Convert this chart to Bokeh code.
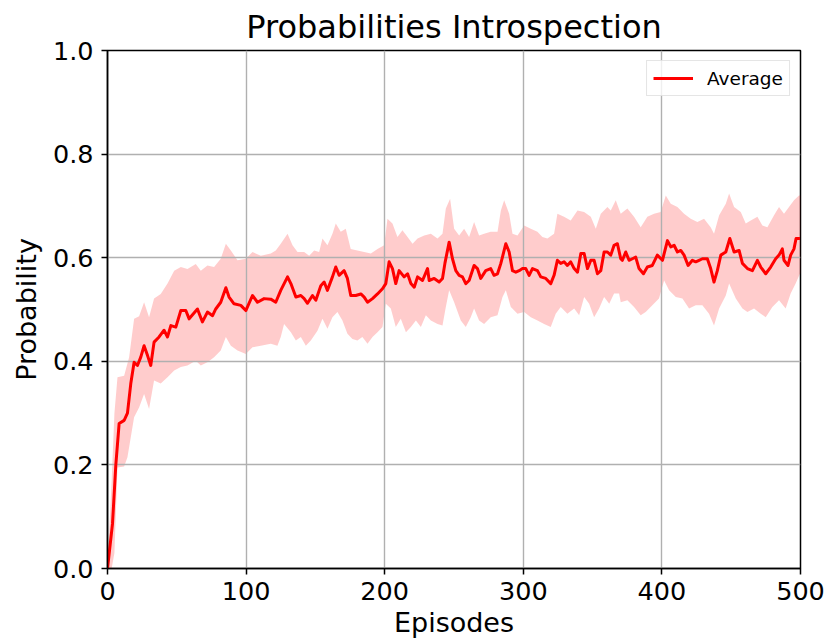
from bokeh.plotting import figure
from bokeh.models import Range1d, FixedTicker, PrintfTickFormatter, Legend, LegendItem
from bokeh.embed import file_html
from bokeh.resources import INLINE

# ---- data ----
mean_ep = [0, 3.6, 6, 8.4, 12, 14.4, 16.8, 19.2, 21.6, 24, 26.4, 28.9, 31.2, 33.6, 37.2, 40.8, 43.3, 45.7, 49.3,
           52.9, 56.5, 58.9, 64.9, 68.5, 72.1, 75.8, 78.1, 81.7, 85.4, 87.7, 91.3, 96.2, 99.8, 104.6, 108.2, 113,
           117.8, 121.4, 125, 129.9, 132.3, 135.9, 139.5, 141.9, 144.3, 147.9, 150.3, 153.9, 156.3, 158.7, 162.3,
           164.7, 167.1, 170.7, 173.1, 175.5, 179.1, 182.8, 185.2, 187.6, 191.2, 194.8, 198.4, 200.8, 203.2, 205.6,
           208, 210.4, 214, 216.5, 218.9, 221.3, 223.7, 227.3, 230.9, 232.1, 235.7, 239.3, 241.7, 243.5, 246.5,
           248.9, 251.3, 253.7, 256.1, 258.5, 260.9, 264.5, 266.9, 269.3, 272.9, 276.5, 278.9, 281.4, 283.8, 287.4,
           289.8, 292.2, 294.6, 297, 299.4, 301.8, 304.2, 306.6, 310.2, 312.6, 316.2, 319.8, 322.2, 324.6, 327,
           329.4, 331.8, 334.2, 336.7, 339.1, 341.5, 343.9, 346.3, 348.7, 351.1, 353.5, 355.9, 358.3, 360.7, 363.1,
           365.5, 367.9, 370.3, 371.5, 373.9, 376.3, 378.7, 381.1, 383.5, 386.7, 389.5, 393.1, 396.7, 400.4, 404,
           406.4, 408.8, 411.2, 413.6, 416, 418.9, 422, 424.4, 426.8, 429.2, 432.8, 435.2, 437.6, 440, 442.5, 446.1,
           449, 452.1, 455.7, 458.1, 461.7, 465.3, 468.9, 471.3, 474.9, 478.5, 482.1, 484.5, 486.9, 488.1, 491,
           492.9, 495.3, 496.8, 499.6]
mean_val = [0.0, 0.086, 0.20, 0.28, 0.286, 0.30, 0.357, 0.398, 0.392, 0.408, 0.43, 0.411, 0.392, 0.437, 0.447, 0.46,
            0.447, 0.469, 0.466, 0.498, 0.498, 0.482, 0.501, 0.476, 0.495, 0.488, 0.501, 0.514, 0.542, 0.524, 0.511,
            0.508, 0.498, 0.527, 0.514, 0.521, 0.52, 0.514, 0.537, 0.563, 0.55, 0.524, 0.527, 0.521, 0.512, 0.527,
            0.518, 0.546, 0.553, 0.537, 0.563, 0.582, 0.566, 0.575, 0.56, 0.527, 0.527, 0.53, 0.524, 0.514, 0.521,
            0.53, 0.54, 0.55, 0.592, 0.579, 0.55, 0.575, 0.563, 0.569, 0.55, 0.543, 0.563, 0.556, 0.579, 0.556, 0.56,
            0.553, 0.56, 0.59, 0.63, 0.598, 0.575, 0.566, 0.563, 0.55, 0.556, 0.585, 0.579, 0.56, 0.575, 0.579, 0.566,
            0.569, 0.589, 0.627, 0.611, 0.575, 0.572, 0.575, 0.579, 0.579, 0.566, 0.579, 0.575, 0.563, 0.56, 0.55,
            0.566, 0.595, 0.589, 0.592, 0.585, 0.592, 0.579, 0.572, 0.608, 0.608, 0.579, 0.595, 0.595, 0.569, 0.575,
            0.611, 0.611, 0.605, 0.624, 0.627, 0.598, 0.595, 0.611, 0.595, 0.598, 0.601, 0.579, 0.569, 0.582, 0.585,
            0.605, 0.595, 0.633, 0.621, 0.624, 0.611, 0.614, 0.605, 0.585, 0.595, 0.592, 0.595, 0.598, 0.598, 0.579,
            0.553, 0.575, 0.605, 0.611, 0.637, 0.611, 0.614, 0.589, 0.579, 0.575, 0.595, 0.582, 0.569, 0.582, 0.598,
            0.605, 0.617, 0.595, 0.585, 0.605, 0.617, 0.637, 0.637]

upper_ep = [0, 3, 5, 7.2, 12, 15.6, 19.2, 22.8, 26.4, 30, 33.6, 38.4, 43.3, 48.1, 52.9, 57.7, 63.7, 67.3, 72.1, 76.9,
            81.7, 85.4, 89, 93.8, 99.8, 104.6, 110.6, 117.8, 121.4, 125, 129.9, 133.5, 137.1, 141.9, 145.5, 149.1,
            152.7, 155.1, 158.7, 162.3, 164.7, 168.3, 171.9, 175.5, 180.3, 185.2, 190, 194.8, 199.6, 202, 205.6,
            209.2, 212.8, 216.5, 220.1, 223.7, 228.5, 233.3, 238.1, 241.7, 244.1, 247.2, 250.1, 253.7, 257.3, 260.9,
            264.5, 268.1, 271.7, 276.5, 281.4, 283.8, 286.2, 289.8, 292.2, 295.8, 300.6, 305.4, 310.2, 313.8, 317.4,
            322.2, 324.6, 329.4, 334.2, 339.1, 343.9, 348.7, 352.3, 355.9, 360.7, 363.1, 366.7, 370.3, 375.1, 379.9,
            384.7, 389.5, 394.3, 399.1, 402.8, 406.4, 411.2, 416, 420.8, 425.6, 430.4, 435.2, 437.6, 441.3, 446.1,
            448.5, 452.1, 456.9, 460.5, 464.1, 468.9, 472.5, 476.1, 480.9, 484.5, 488.1, 491.7, 495.3, 498.9, 500]
upper_val = [0.0, 0.17, 0.30, 0.369, 0.372, 0.408, 0.482, 0.487, 0.514, 0.485, 0.521, 0.53, 0.55, 0.575, 0.582, 0.578,
             0.588, 0.575, 0.585, 0.582, 0.598, 0.627, 0.614, 0.595, 0.598, 0.611, 0.604, 0.608, 0.614, 0.627, 0.646,
             0.624, 0.611, 0.611, 0.604, 0.614, 0.611, 0.637, 0.624, 0.646, 0.666, 0.65, 0.656, 0.617, 0.614, 0.611,
             0.608, 0.617, 0.624, 0.675, 0.666, 0.64, 0.653, 0.64, 0.627, 0.637, 0.643, 0.646, 0.637, 0.646, 0.695,
             0.714, 0.656, 0.643, 0.656, 0.64, 0.669, 0.643, 0.646, 0.65, 0.65, 0.691, 0.711, 0.685, 0.646, 0.643,
             0.662, 0.656, 0.65, 0.64, 0.637, 0.646, 0.685, 0.679, 0.672, 0.691, 0.688, 0.679, 0.656, 0.685, 0.698,
             0.691, 0.711, 0.685, 0.695, 0.679, 0.659, 0.679, 0.685, 0.688, 0.72, 0.704, 0.698, 0.685, 0.675, 0.669,
             0.675, 0.659, 0.646, 0.682, 0.704, 0.724, 0.698, 0.688, 0.666, 0.672, 0.679, 0.662, 0.659, 0.682, 0.698,
             0.685, 0.698, 0.711, 0.72, 0.72]

lower_ep = [0, 3, 5, 7.2, 12, 14.4, 19.2, 22.8, 26.4, 30, 33.6, 38.4, 43.3, 48.1, 52.9, 57.7, 63.7, 67.3, 72.1, 76.9,
            81.7, 85.4, 89, 93.8, 99.8, 104.6, 110.6, 117.8, 122.6, 125, 127.4, 132.3, 135.9, 139.5, 143.1, 146.7,
            151.5, 155.1, 158.7, 162.3, 165.9, 169.5, 173.1, 176.7, 180.3, 183.9, 187.6, 191.2, 194.8, 198.4, 200.8,
            204.4, 208, 211.6, 215.3, 218.9, 222.5, 226.1, 229.7, 233.3, 238.1, 241.7, 244.1, 246.5, 250.1, 254.9,
            258.5, 262.1, 264.5, 268.1, 271.7, 276.5, 281.4, 285, 287.4, 291, 295.8, 300.6, 305.4, 310.2, 315, 319.8,
            323.4, 327, 331.8, 336.7, 340.3, 343.9, 347.5, 351.1, 354.7, 358.3, 362, 365.5, 369.1, 370.3, 375.1,
            379.9, 384.7, 388.3, 393.1, 397.9, 401.6, 405.2, 410, 414.8, 419.6, 424.4, 429.2, 434, 437.6, 441.3,
            446.1, 448.5, 453.3, 458.1, 461.7, 466.5, 471.3, 474.9, 479.7, 484.5, 489.3, 492.9, 496.5, 499.6, 500]
lower_val = [0.0, 0.0, 0.03, 0.195, 0.197, 0.215, 0.292, 0.311, 0.337, 0.308, 0.363, 0.357, 0.369, 0.382, 0.389,
             0.392, 0.401, 0.392, 0.398, 0.408, 0.421, 0.447, 0.43, 0.421, 0.414, 0.427, 0.43, 0.434, 0.43, 0.447,
             0.472, 0.456, 0.44, 0.447, 0.43, 0.44, 0.459, 0.482, 0.463, 0.485, 0.495, 0.479, 0.453, 0.443, 0.44,
             0.447, 0.434, 0.447, 0.456, 0.466, 0.511, 0.502, 0.466, 0.482, 0.456, 0.466, 0.479, 0.466, 0.489, 0.479,
             0.472, 0.469, 0.505, 0.537, 0.514, 0.479, 0.466, 0.485, 0.502, 0.479, 0.472, 0.485, 0.489, 0.524, 0.537,
             0.505, 0.492, 0.495, 0.485, 0.479, 0.472, 0.466, 0.492, 0.505, 0.492, 0.502, 0.489, 0.524, 0.511, 0.485,
             0.502, 0.524, 0.511, 0.531, 0.531, 0.514, 0.518, 0.505, 0.489, 0.495, 0.508, 0.521, 0.556, 0.537, 0.524,
             0.521, 0.502, 0.508, 0.508, 0.492, 0.469, 0.502, 0.527, 0.55, 0.521, 0.502, 0.495, 0.502, 0.492, 0.485,
             0.505, 0.518, 0.502, 0.531, 0.55, 0.569, 0.569]

x_ticks = [0, 100, 200, 300, 400, 500]
y_ticks = [0.0, 0.2, 0.4, 0.6, 0.8, 1.0]

FONT = "DejaVu Sans"

p = figure(width=828, height=641, output_backend="svg", toolbar_location=None,
           x_range=Range1d(0, 500), y_range=Range1d(0, 1),
           min_border_left=107, min_border_right=28, min_border_top=50, min_border_bottom=73)

p.title.text = "Probabilities Introspection"
p.title.align = "center"
p.title.text_font = FONT
p.title.text_font_size = "32px"
p.title.text_font_style = "normal"
p.title.text_color = "black"

band_x = upper_ep + lower_ep[::-1]
band_y = upper_val + lower_val[::-1]
band = p.patch(band_x, band_y, fill_color="red", fill_alpha=0.2, line_color=None, level="image")

line = p.line(mean_ep, mean_val, line_color="red", line_width=3, line_join="round")

for ax in (p.xaxis[0], p.yaxis[0]):
    ax.major_label_text_font = FONT
    ax.major_label_text_font_size = "25.5px"
    ax.major_label_text_color = "black"
    ax.axis_label_text_font = FONT
    ax.axis_label_text_font_size = "27px"
    ax.axis_label_text_font_style = "normal"
    ax.axis_label_text_color = "black"
    ax.axis_line_color = "black"
    ax.axis_line_width = 1.5
    ax.major_tick_line_color = "black"
    ax.major_tick_line_width = 1.5
    ax.major_tick_out = 6
    ax.major_tick_in = 0
    ax.minor_tick_line_color = None

p.xaxis[0].ticker = FixedTicker(ticks=x_ticks)
p.yaxis[0].ticker = FixedTicker(ticks=y_ticks)
p.yaxis[0].formatter = PrintfTickFormatter(format="%.1f")
p.xaxis[0].axis_label = "Episodes"
p.yaxis[0].axis_label = "Probability"
p.xaxis[0].major_label_standoff = 7
p.yaxis[0].major_label_standoff = 8
p.xaxis[0].axis_label_standoff = 4
p.yaxis[0].axis_label_standoff = 8

p.xgrid.grid_line_color = "#b0b0b0"
p.ygrid.grid_line_color = "#b0b0b0"
p.xgrid.grid_line_width = 1.4
p.ygrid.grid_line_width = 1.4

p.outline_line_color = "black"
p.outline_line_width = 1.5
p.outline_line_alpha = 1.0
p.background_fill_color = "white"
p.border_fill_color = "white"

legend = Legend(items=[LegendItem(label="Average", renderers=[line])], location="top_right")
legend.label_text_font = FONT
legend.label_text_font_size = "18.5px"
legend.label_text_color = "black"
legend.border_line_color = "#cccccc"
legend.border_line_width = 1.2
legend.background_fill_alpha = 0.8
legend.glyph_width = 40
legend.glyph_height = 22
legend.label_height = 22
legend.label_standoff = 14
legend.padding = 6
legend.margin = 10
p.add_layout(legend)

open("out.html", "w").write(file_html(p, INLINE))
